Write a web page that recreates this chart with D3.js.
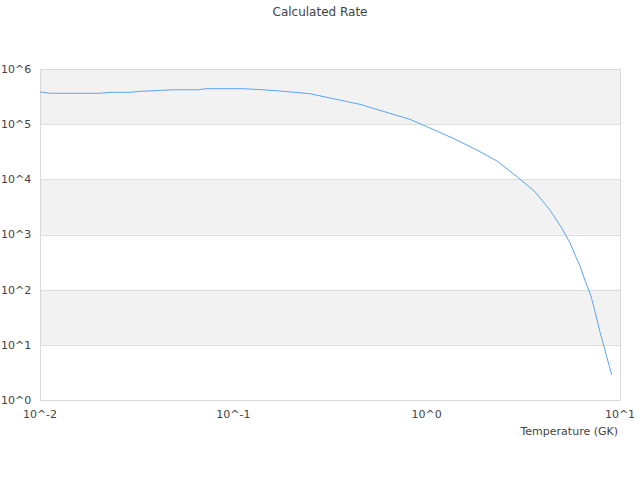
<head>
    <script src="https://d3js.org/d3.v7.min.js"></script>
</head>
<body style="margin:0">
<script>
    // temperature (GK) and rate
    let temps = [0.01, 0.0113, 0.0204, 0.023, 0.0292, 0.033, 0.042, 0.0488, 0.065, 0.073, 0.112, 0.142, 0.174,
                 0.249, 0.316, 0.452, 0.82, 0.89, 1.37, 1.82, 2.31, 2.93, 3.63, 4.34, 5.0, 5.5, 5.9, 6.21, 6.6,
                 7.08, 7.46, 7.88, 8.54, 9.06];
    let rates = [3.83e5, 3.63e5, 3.63e5, 3.78e5, 3.78e5, 3.94e5, 4.1e5, 4.2e5, 4.2e5, 4.4e5, 4.4e5, 4.2e5, 3.99e5,
                 3.57e5, 2.98e5, 2.29e5, 1.22e5, 1.08e5, 5.55e4, 3.4e4, 2.15e4, 1.12e4, 5.97e3, 2.78e3, 1.3e3, 7.2e2, 4.0e2, 2.7e2, 1.45e2,
                 76, 38, 17, 6.1, 2.84];
    let xTicks = [0.01, 0.1, 1, 10];
    let xTickLabels = ["10^-2", "10^-1", "10^0", "10^1"];
    let yTicks = [1, 10, 100, 1e3, 1e4, 1e5, 1e6];
    let yTickLabels = ["10^0", "10^1", "10^2", "10^3", "10^4", "10^5", "10^6"];

    let width = 640, height = 480;
    let plotLeft = 40, plotRight = 620, plotTop = 69, plotBottom = 400;
    let font = "DejaVu Sans";
    let textColor = "#444";

    let svg = d3.select("body").append("svg")
        .attr("width", width)
        .attr("height", height)
        .style("font-family", font);

    let x = d3.scaleLog().domain([0.01, 10]).range([plotLeft, plotRight]);
    let y = d3.scaleLog().domain([1, 1e6]).range([plotBottom, plotTop]);

    // alternating bands
    let bands = [[10, 100], [1e3, 1e4], [1e5, 1e6]];
    svg.selectAll(".band")
        .data(bands)
        .join("rect")
        .attr("class", "band")
        .attr("x", plotLeft)
        .attr("width", plotRight - plotLeft)
        .attr("y", d => y(d[1]))
        .attr("height", d => y(d[0]) - y(d[1]))
        .attr("fill", "#f2f2f2");

    // horizontal grid lines
    svg.selectAll(".grid")
        .data(yTicks)
        .join("line")
        .attr("class", "grid")
        .attr("x1", plotLeft)
        .attr("x2", plotRight)
        .attr("y1", d => Math.round(y(d)) + 0.5)
        .attr("y2", d => Math.round(y(d)) + 0.5)
        .attr("stroke", "#dddddd");

    // frame
    svg.append("rect")
        .attr("x", plotLeft + 0.5)
        .attr("y", plotTop + 0.5)
        .attr("width", plotRight - plotLeft)
        .attr("height", plotBottom - plotTop)
        .attr("fill", "none")
        .attr("stroke", "#d9d9d9");

    // y labels
    svg.selectAll(".ylab")
        .data(yTicks)
        .join("text")
        .attr("class", "ylab")
        .attr("x", 1)
        .attr("y", d => y(d))
        .attr("dy", "0.35em")
        .attr("font-size", 11)
        .attr("fill", textColor)
        .text((d, i) => yTickLabels[i]);

    // x labels
    svg.selectAll(".xlab")
        .data(xTicks)
        .join("text")
        .attr("class", "xlab")
        .attr("x", d => x(d))
        .attr("y", 414)
        .attr("dy", "0.35em")
        .attr("text-anchor", "middle")
        .attr("font-size", 11)
        .attr("fill", textColor)
        .text((d, i) => xTickLabels[i]);

    svg.append("text")
        .attr("x", 618)
        .attr("y", 431)
        .attr("dy", "0.35em")
        .attr("text-anchor", "end")
        .attr("font-size", 11)
        .attr("fill", textColor)
        .text("Temperature (GK)");

    svg.append("text")
        .attr("x", width / 2)
        .attr("y", 12)
        .attr("dy", "0.35em")
        .attr("text-anchor", "middle")
        .attr("font-size", 12)
        .attr("fill", textColor)
        .text("Calculated Rate");

    let line = d3.line()
        .x(d => x(d[0]))
        .y(d => y(d[1]));

    svg.append("path")
        .datum(temps.map((t, i) => [t, rates[i]]))
        .attr("d", line)
        .attr("fill", "none")
        .attr("stroke", "#5aa5f0")
        .attr("stroke-width", 1);
</script>
</body>
